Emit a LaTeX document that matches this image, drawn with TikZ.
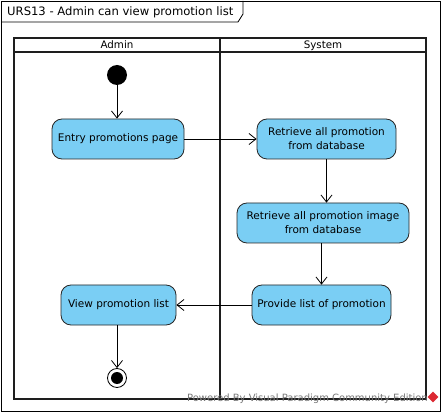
\documentclass[tikz,border=0pt]{standalone}
\usepackage{fontspec}
\setmainfont{DejaVu Sans}
\usetikzlibrary{arrows.meta,shapes.geometric}
\definecolor{actfill}{RGB}{122,206,244}
\definecolor{laneline}{RGB}{30,30,30}
\definecolor{wmgray}{RGB}{120,120,120}
\definecolor{wmred}{RGB}{220,40,50}
\tikzset{
  activity/.style={draw=black!85, fill=actfill, rounded corners=10pt, line width=0.8pt,
    align=center, font=\fontsize{10.5}{14}\selectfont, inner sep=0pt},
  flow/.style={draw=black, line width=0.8pt, -{Straight Barb[length=7pt,width=11pt,line width=0.8pt]}},
  lane/.style={draw=laneline, line width=2pt},
  lanelabel/.style={font=\fontsize{10.3}{11}\selectfont, anchor=base},
}
\begin{document}
\begin{tikzpicture}[x=1pt,y=-1pt]
  \useasboundingbox (0,0) rectangle (442,414);
  % diagram frame and title tab
  \draw[line width=0.8pt] (1,1) rectangle (440,411);
  \draw[line width=0.8pt] (1,22) -- (238,22) -- (243,14) -- (243,1);
  \node[anchor=base west, font=\fontsize{11.6}{13}\selectfont, inner sep=0pt] (title) at (7,16) {URS13 - Admin can view promotion list};

  % swimlanes
  \draw[lane] (14,38) rectangle (426,399);
  \draw[lane] (14,52) -- (426,52);
  \draw[lane] (220,38) -- (220,399);
  \node[lanelabel] (laneA) at (117,49) {Admin};
  \node[lanelabel] (laneS) at (323,49) {System};

  % start and end
  \node[circle, fill=black, minimum size=20pt, inner sep=0pt] (start) at (117,75) {};
  \node[circle, draw=black, line width=0.8pt, fill=white, minimum size=19pt, inner sep=0pt] (final) at (117,378) {};
  \node[circle, fill=black, minimum size=12pt, inner sep=0pt] (finaldot) at (117,378) {};

  % activities
  \node[activity, minimum width=132pt, minimum height=40pt] (entry) at (118,139) {Entry promotions page};
  \node[activity, minimum width=139pt, minimum height=40pt] (retrieve) at (326.5,139) {Retrieve all promotion\\from database};
  \node[activity, minimum width=172pt, minimum height=40pt] (image) at (323,223) {Retrieve all promotion image\\from database};
  \node[activity, minimum width=139pt, minimum height=40pt] (provide) at (321.5,305) {Provide list of promotion};
  \node[activity, minimum width=115pt, minimum height=40pt] (view) at (118.5,305) {View promotion list};

  % control flows
  \draw[flow] (start) -- (start |- entry.north);
  \draw[flow] (entry) -- (retrieve);
  \draw[flow] (retrieve.south) -- (retrieve.south |- image.north);
  \draw[flow] (image.south -| provide.north) -- (provide.north);
  \draw[flow] (provide) -- (view);
  \draw[flow] (final |- view.south) -- (final);

  % watermark
  \node[anchor=base east, text=wmgray, font=\fontsize{10}{11}\selectfont, inner sep=0pt] (wm) at (428,401) {Powered By Visual Paradigm Community Edition};
  \node[diamond, fill=wmred, minimum size=11pt, inner sep=0pt, aspect=1] (logo) at (433,397) {};
\end{tikzpicture}
\end{document}
